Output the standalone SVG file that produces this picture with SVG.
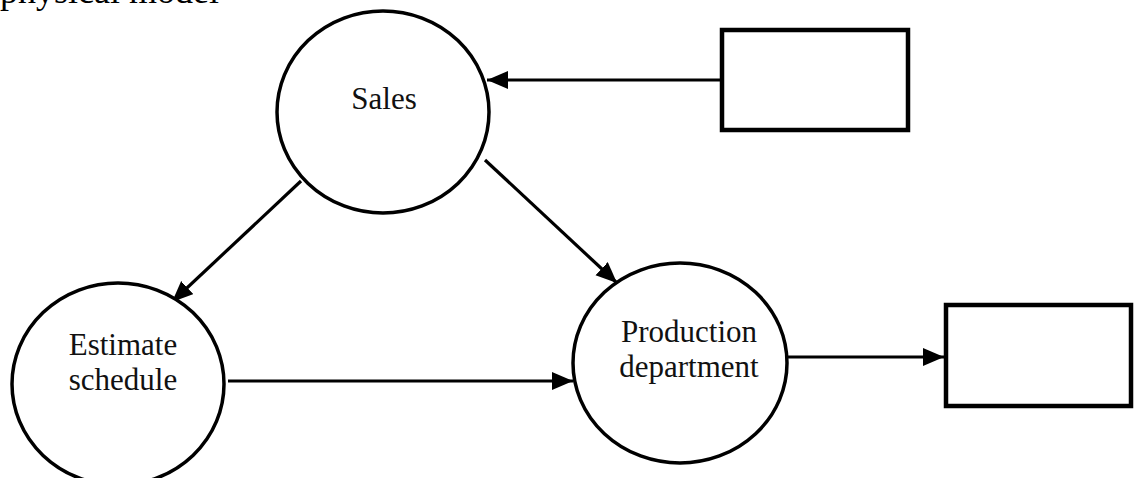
<svg xmlns="http://www.w3.org/2000/svg" width="1137" height="478" viewBox="0 0 1137 478">
  <style>
    .bubble { fill: #fff; stroke: #000; stroke-width: 3.5; }
    .store { fill: #fff; stroke: #000; stroke-width: 4.5; }
    .flow { stroke: #000; stroke-width: 3.2; fill: none; marker-end: url(#head); }
    .label { font-family: "Liberation Serif", "Times New Roman", serif; font-size: 31px; fill: #111; text-anchor: middle; }
    .title { font-family: "Liberation Serif", "Times New Roman", serif; font-size: 36px; fill: #000; }
  </style>
  <defs>
    <marker id="head" markerUnits="userSpaceOnUse" markerWidth="24" markerHeight="20" refX="21" refY="9" orient="auto">
      <path d="M0,0 L21,9 L0,18 Z" fill="#000"/>
    </marker>
  </defs>
  <rect width="1137" height="478" fill="#fff"/>

  <text class="title" x="0" y="3">physical model</text>

  <g id="connectors">
    <line class="flow" x1="720" y1="80" x2="487" y2="80"/>
    <line class="flow" x1="301" y1="181" x2="172" y2="302"/>
    <line class="flow" x1="485" y1="160" x2="617" y2="283"/>
    <line class="flow" x1="228" y1="381" x2="573" y2="381"/>
    <line class="flow" x1="788" y1="357" x2="944" y2="357"/>
  </g>

  <g id="sales">
    <ellipse class="bubble" cx="383" cy="112" rx="106" ry="101"/>
    <text class="label" x="384" y="109">Sales</text>
  </g>

  <g id="estimate-schedule">
    <ellipse class="bubble" cx="118" cy="384" rx="106" ry="101"/>
    <text class="label" x="123" y="355">Estimate</text>
    <text class="label" x="123" y="390">schedule</text>
  </g>

  <g id="production-department">
    <ellipse class="bubble" cx="680" cy="363" rx="107" ry="100"/>
    <text class="label" x="689" y="342">Production</text>
    <text class="label" x="689" y="377">department</text>
  </g>

  <g id="source-box">
    <rect class="store" x="722" y="30" width="186" height="100"/>
  </g>

  <g id="sink-box">
    <rect class="store" x="946" y="305" width="185" height="101"/>
  </g>
</svg>
